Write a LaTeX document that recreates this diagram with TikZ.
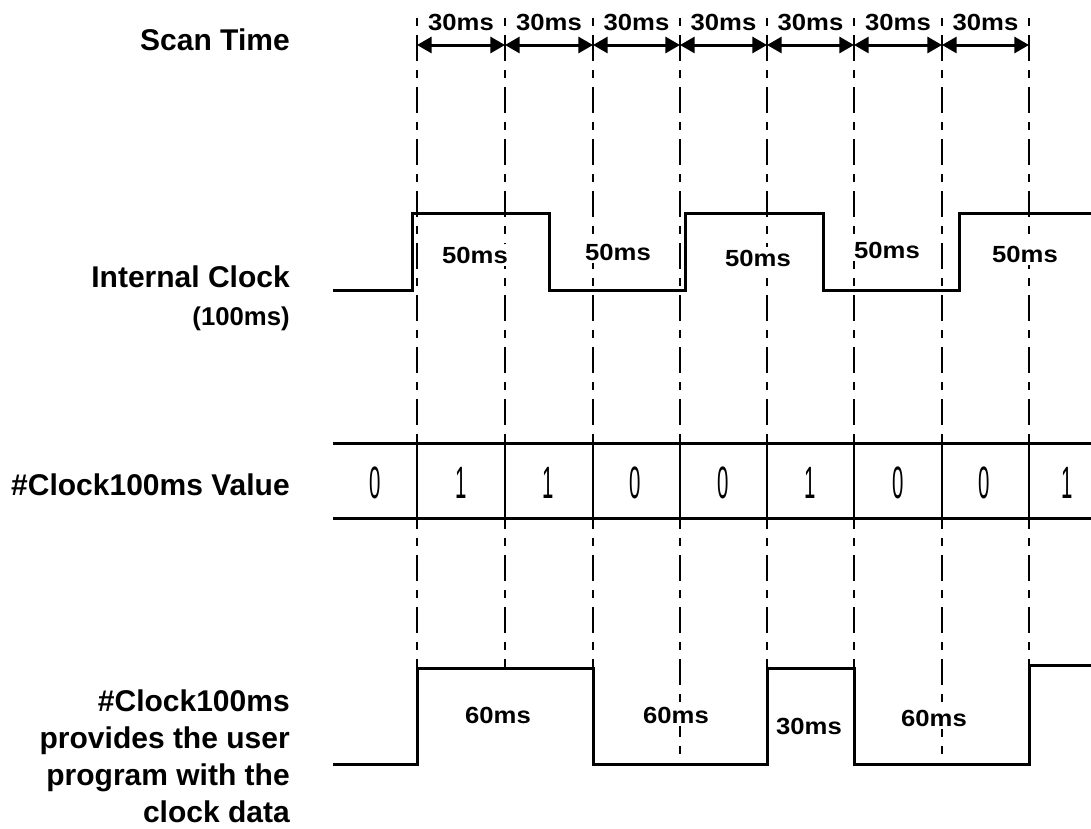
\documentclass[tikz,border=0pt]{standalone}
\usepackage{fontspec}
\setmainfont{Liberation Sans}
\newfontfamily\msfont[FakeStretch=1.1]{Liberation Sans}
\newfontfamily\valfont[FakeStretch=0.45]{Liberation Sans}
\usetikzlibrary{arrows.meta}
\usetikzlibrary{positioning}

\begin{document}
\begin{tikzpicture}[x=0.75pt,y=-0.75pt,
  sig/.style={line width=2.25pt},
  grid/.style={line width=1.9pt,dash pattern=on 6pt off 6.75pt on 19.5pt off 6.75pt},
  span/.style={line width=2.25pt,{Triangle[length=11pt,width=12pt]}-{Triangle[length=11pt,width=12pt]}},
  lbl/.style={font=\bfseries\fontsize{22.5}{27.75}\selectfont,anchor=base east,inner sep=0pt,align=right},
  ms/.style={font=\msfont\bfseries\fontsize{17.5}{17.5}\selectfont,fill=white,inner sep=2pt},
  val/.style={font=\valfont\fontsize{34}{34}\selectfont,inner sep=0pt}]
\useasboundingbox (0,0) rectangle (1091,828);

\node[lbl] (scan) at (290,50) {Scan Time};
\node[lbl] (iclk) at (290,287) {Internal Clock};
\node[lbl,font=\bfseries\fontsize{19.3}{19.3}\selectfont] (iper) at (290,325) {(100ms)};
\node[lbl] (cval) at (290,495) {\#Clock100ms Value};
\node[lbl,anchor=north east] (cout) at (290,689) {\#Clock100ms\\provides the user\\program with the\\clock data};

\foreach \x/\y in {417/668,505/668,593/668,680/764,767/668,854/668,942/764,1029/665}
  \draw[grid] (\x,18) -- (\x,\y);

\foreach \x [count=\i from 0] in {417,505,593,680,767,854,942,1029}
  \coordinate (b\i) at (\x,45);
\foreach \i [evaluate=\i as \j using int(\i+1)] in {0,...,6}
  \draw[span] (b\i) -- node[ms,midway,yshift=17pt] (st\i) {30ms} (b\j);

\draw[sig] (333,290) -- (412,290) -- (412,213) -- (549,213) -- (549,290) -- (685,290)
  -- (685,213) -- (823,213) -- (823,290) -- (959,290) -- (959,213) -- (1091,213);
\foreach \x/\y [count=\i] in {475/255,618/252,758/258,887/250,1025/254}
  \node[ms] (h\i) at (\x,\y) {50ms};

\draw[sig] (333,443) -- (1091,443);
\draw[sig] (333,518) -- (1091,518);
\foreach \x in {417,505,593,680,767,854,942,1029}
  \draw[line width=2pt] (\x,443) -- (\x,518);
\foreach \x/\v [count=\i] in {375/0,461/1,548/1,635/0,723/0,810/1,898/0,984/0,1067/1}
  \node[val] (v\i) at (\x,483) {\v};

\draw[sig] (333,764) -- (417,764) -- (417,668) -- (593,668) -- (593,764) -- (767,764)
  -- (767,668) -- (854,668) -- (854,764) -- (1029,764) -- (1029,665) -- (1091,665);
\node[ms] (p1) at (498,715) {60ms};
\node[ms] (p2) at (676,715) {60ms};
\node[ms] (p3) at (809,726) {30ms};
\node[ms] (p4) at (934,718) {60ms};
\end{tikzpicture}
\end{document}
